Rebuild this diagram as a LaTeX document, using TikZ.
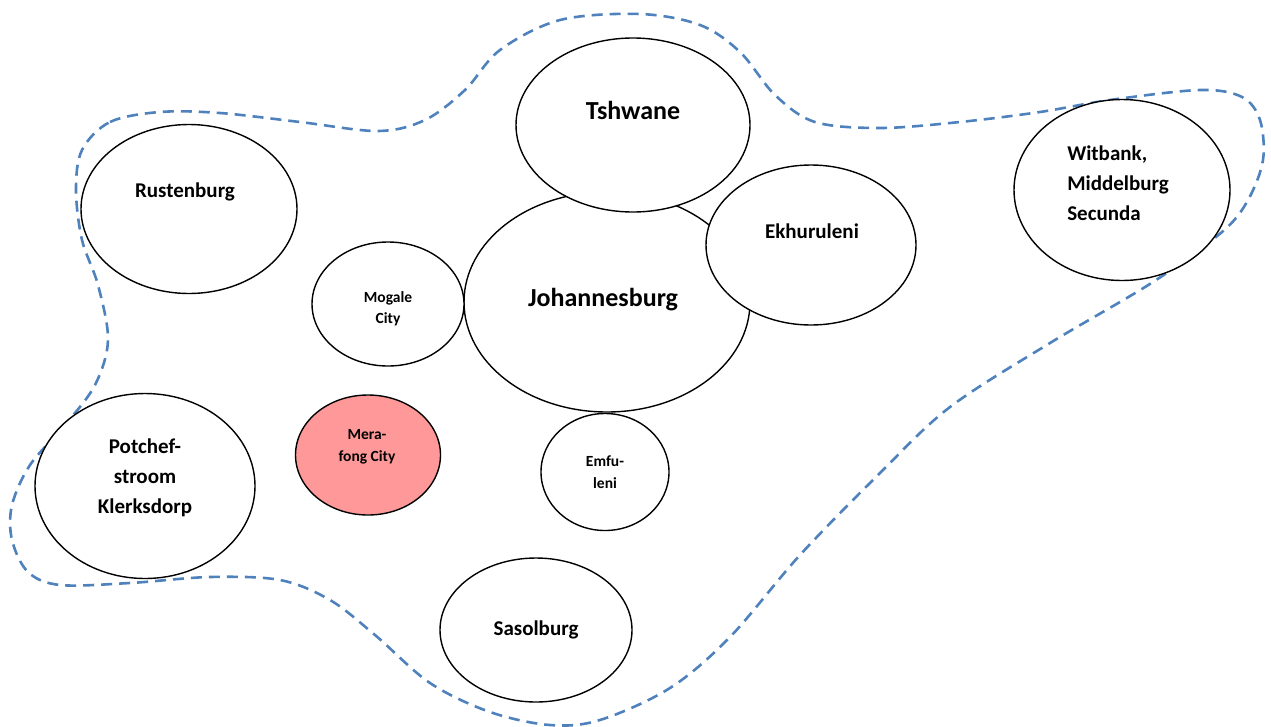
\documentclass[tikz,border=0pt]{standalone}
\usepackage{fontspec}
\setmainfont{Carlito}
\usetikzlibrary{shapes.geometric}
\definecolor{regionblue}{HTML}{4F81BD}
\definecolor{highlight}{HTML}{FF9999}
\tikzset{
  city/.style={ellipse, draw=black, line width=1.4pt, fill=white, inner sep=0pt},
  big/.style={font=\bfseries\fontsize{26}{32}\selectfont, align=center},
  mid/.style={font=\bfseries\fontsize{21}{30}\selectfont, align=center},
  small/.style={font=\bfseries\fontsize{15.5}{21.5}\selectfont, align=center},
  region/.style={draw=regionblue, line width=2.6pt, dash pattern=on 11pt off 7pt}
}
\begin{document}
\begin{tikzpicture}[x=1pt,y=-1pt]
\useasboundingbox (0,0) rectangle (1271,726);

% dashed outline of the urban region
\draw[region] plot[smooth cycle, tension=0.55] coordinates {
  (82,150) (110,122) (160,112) (220,113) (300,122) (378,131) (425,120)
  (465,90) (500,50) (560,20) (640,14) (700,25) (740,52) (775,95)
  (815,122) (880,128) (960,122) (1040,112) (1110,100) (1200,90)
  (1242,97) (1260,120) (1263,160) (1248,200) (1222,232) (1153,282)
  (1050,343) (950,407) (880,473) (800,555) (730,637) (670,688)
  (600,720) (550,725) (490,712) (430,683) (375,635) (330,600)
  (280,580) (210,577) (130,583) (60,585) (28,572) (12,540) (12,505)
  (30,465) (65,425) (95,385) (108,340) (98,285) (82,240) (76,190)};

% cities
\node[city, minimum width=286pt, minimum height=220pt] (jhb) at (607,302) {};
\node[city, minimum width=234pt, minimum height=174pt] (tsh) at (633,125) {};
\node[city, minimum width=210pt, minimum height=160pt] (ekh) at (811,245) {};
\node[city, minimum width=128pt, minimum height=117pt] (emf) at (605,472) {};
\node[city, minimum width=216pt, minimum height=181pt] (wit) at (1122,190) {};
\node[city, minimum width=216pt, minimum height=169pt] (rus) at (189,209) {};
\node[city, minimum width=152pt, minimum height=124pt] (mog) at (388,304) {};
\node[city, minimum width=145pt, minimum height=120pt, fill=highlight] (mer) at (368,455) {};
\node[city, minimum width=220pt, minimum height=185pt] (pot) at (145,486) {};
\node[city, minimum width=192pt, minimum height=144pt] (sas) at (536,630) {};

% names
\node[big] (tsh-t) at (633,110) {Tshwane};
\node[big] (jhb-t) at (603,300) {Johannesburg};
\node[mid] (ekh-t) at (812,231) {Ekhuruleni};
\node[mid, align=left] (wit-t) at (1118,183) {Witbank,\\Middelburg\\Secunda};
\node[mid] (rus-t) at (185,192) {Rustenburg};
\node[mid] (pot-t) at (145,478) {Potchef-\\stroom\\Klerksdorp};
\node[mid] (sas-t) at (536,630) {Sasolburg};
\node[small] (mog-t) at (388,309) {Mogale\\City};
\node[small] (mer-t) at (367,447) {Mera-\\fong City};
\node[small] (emf-t) at (605,472) {Emfu-\\leni};
\end{tikzpicture}
\end{document}
